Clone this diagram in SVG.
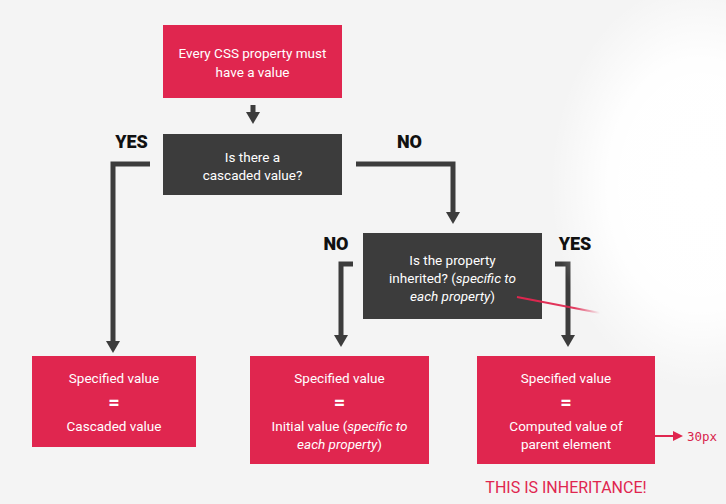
<svg xmlns="http://www.w3.org/2000/svg" width="726" height="504" viewBox="0 0 726 504">
<style>
.red{fill:#e0264f}
.dark{fill:#3c3c3c}
.t{font-family:Roboto,"Liberation Sans",sans-serif;font-size:13.5px;fill:#ffffff;text-anchor:middle}
.eq{font-family:Roboto,"Liberation Sans",sans-serif;font-size:20px;font-weight:bold;fill:#ffffff;text-anchor:middle}
.lab{font-family:Roboto,"Liberation Sans",sans-serif;font-size:18px;font-weight:900;fill:#111111;text-anchor:middle}
.con{fill:none;stroke:#3c3c3c;stroke-width:5;stroke-linejoin:miter}
</style>
<defs>
<marker id="ah" viewBox="0 -7 12 14" refX="0" refY="0" markerWidth="12" markerHeight="14" markerUnits="userSpaceOnUse" orient="auto">
<path d="M0,-7 L12,0 L0,7 z" fill="#3c3c3c"/>
</marker>
<marker id="rh" viewBox="0 -5 10 10" refX="0" refY="0" markerWidth="10" markerHeight="10" markerUnits="userSpaceOnUse" orient="auto">
<path d="M0,-5 L10,0 L0,5 z" fill="#e0264f"/>
</marker>
<radialGradient id="glow" cx="0.5" cy="0.5" r="0.5">
<stop offset="0" stop-color="#ffffff" stop-opacity="1"/>
<stop offset="0.6" stop-color="#ffffff" stop-opacity="0.95"/>
<stop offset="1" stop-color="#ffffff" stop-opacity="0"/>
</radialGradient>
<linearGradient id="fade" gradientUnits="userSpaceOnUse" x1="517" y1="0" x2="600" y2="0">
<stop offset="0" stop-color="#e0264f" stop-opacity="1"/>
<stop offset="0.7" stop-color="#e0264f" stop-opacity="0.9"/>
<stop offset="1" stop-color="#e0264f" stop-opacity="0"/>
</linearGradient>
</defs>
<rect x="0" y="0" width="726" height="504" fill="#f4f4f4"/>

<g id="connectors">
<path class="con" d="M253,105 V112" marker-end="url(#ah)"/>
<path class="con" d="M150,164 H113 V341" marker-end="url(#ah)"/>
<path class="con" d="M356,164 H453 V212" marker-end="url(#ah)"/>
<path class="con" d="M353,264 H341 V335" marker-end="url(#ah)"/>
<path class="con" d="M555,264 H568 V335" marker-end="url(#ah)"/>
</g>

<ellipse cx="700" cy="185" rx="150" ry="205" fill="url(#glow)"/>

<g id="start">
<rect class="red" x="163" y="25" width="179" height="73"/>
<text class="t" x="252.5" y="58">Every CSS property must</text>
<text class="t" x="252.5" y="77">have a value</text>
</g>

<g id="q1">
<rect class="dark" x="163" y="134" width="179" height="61"/>
<text class="t" x="252.5" y="162">Is there a</text>
<text class="t" x="252.5" y="180">cascaded value?</text>
</g>

<g id="q1-labels">
<text class="lab" x="131.5" y="148">YES</text>
<text class="lab" x="409.5" y="148">NO</text>
</g>

<g id="q2">
<rect class="dark" x="363" y="233" width="179" height="86"/>
<text class="t" x="452.5" y="265">Is the property</text>
<text class="t" x="452.5" y="283">inherited? (<tspan font-style="italic">specific to</tspan></text>
<text class="t" x="452.5" y="301"><tspan font-style="italic">each property</tspan>)</text>
</g>

<g id="pointer">
<line x1="517" y1="297" x2="600" y2="313" stroke="url(#fade)" stroke-width="2"/>
</g>

<g id="q2-labels">
<text class="lab" x="336" y="250">NO</text>
<text class="lab" x="575" y="250">YES</text>
</g>

<g id="cascaded">
<rect class="red" x="32" y="356" width="164" height="91"/>
<text class="t" x="114" y="383">Specified value</text>
<text class="eq" x="114" y="409">=</text>
<text class="t" x="114" y="431">Cascaded value</text>
</g>

<g id="initial">
<rect class="red" x="250" y="356" width="179" height="108"/>
<text class="t" x="339.5" y="383">Specified value</text>
<text class="eq" x="339.5" y="409">=</text>
<text class="t" x="339.5" y="431">Initial value (<tspan font-style="italic">specific to</tspan></text>
<text class="t" x="339.5" y="449"><tspan font-style="italic">each property</tspan>)</text>
</g>

<g id="inherited">
<rect class="red" x="477" y="356" width="178" height="108"/>
<text class="t" x="566" y="383">Specified value</text>
<text class="eq" x="566" y="409">=</text>
<text class="t" x="566" y="431">Computed value of</text>
<text class="t" x="566" y="449">parent element</text>
<line x1="628" y1="436" x2="673" y2="436" stroke="#e0264f" stroke-width="2" marker-end="url(#rh)"/>
<text x="687" y="441" font-family="'DejaVu Sans Mono','Liberation Mono',monospace" font-size="12.5" fill="#d8234b">30px</text>
</g>

<g id="note">
<text x="566" y="493" font-family="Roboto,'Liberation Sans',sans-serif" font-size="16" fill="#e0264f" text-anchor="middle">THIS IS INHERITANCE!</text>
</g>
</svg>
